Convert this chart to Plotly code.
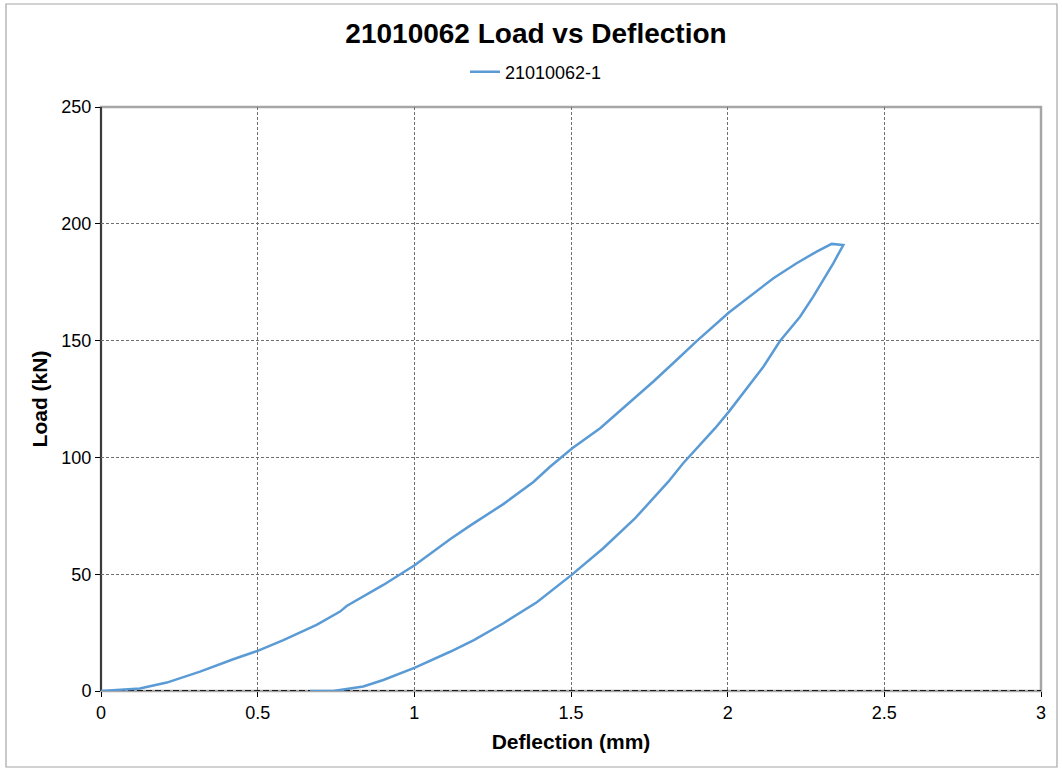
import plotly.graph_objects as go

# Loading branch (deflection mm, load kN)
load_defl = [0, 0.05, 0.124, 0.21, 0.316, 0.422, 0.502, 0.582, 0.635, 0.688, 0.763, 0.784,
             0.901, 1.002, 1.114, 1.178, 1.284, 1.38, 1.433, 1.504, 1.593, 1.699, 1.763,
             1.837, 1.901, 2.004, 2.071, 2.146, 2.22, 2.284, 2.332, 2.369]
load_kn = [0, 0.4, 1.1, 3.6, 8.3, 13.6, 17.3, 21.8, 25.1, 28.3, 34.0, 36.4,
           45.4, 53.9, 65.0, 70.8, 80.0, 89.5, 96.0, 103.9, 112.5, 125.0, 132.5,
           141.7, 149.8, 162.0, 168.8, 176.7, 183.1, 188.1, 191.4, 190.9]

# Unloading branch
unload_defl = [2.337, 2.305, 2.273, 2.231, 2.167, 2.114, 2.061, 2.004, 1.96, 1.912, 1.858,
               1.81, 1.705, 1.603, 1.502, 1.391, 1.284, 1.19, 1.114, 1.002, 0.901, 0.837,
               0.741, 0.667]
unload_kn = [183.1, 176.0, 168.8, 160.2, 149.8, 138.8, 129.5, 119.6, 112.5, 105.3, 97.5,
             89.5, 74.0, 61.1, 49.7, 38.0, 29.0, 21.8, 16.8, 10.0, 4.7, 1.9,
             0, 0]

series_name = "21010062-1"
title_text = "21010062 Load vs Deflection"
x_ticks = [0, 0.5, 1, 1.5, 2, 2.5, 3]
y_ticks = [0, 50, 100, 150, 200, 250]

FONT = "Liberation Sans, Arial, sans-serif"

fig = go.Figure()
fig.add_trace(go.Scatter(
    x=load_defl + unload_defl,
    y=load_kn + unload_kn,
    mode="lines",
    name=series_name,
    line=dict(color="#5B9BD5", width=2.5),
))

L, R, T, B = 101, 21, 107, 81
W, H = 1062, 772
pw, ph = W - L - R, H - T - B

def px_to_paper_x(px):
    return (px - L) / pw

def px_to_paper_y(py):
    return (H - B - py) / ph

shapes = [
    # outer chart border
    dict(type="rect", xref="paper", yref="paper",
         x0=px_to_paper_x(6), x1=px_to_paper_x(1057),
         y0=px_to_paper_y(767), y1=px_to_paper_y(4),
         line=dict(color="#A6A6A6", width=1.2), layer="below"),
    # plot area border
    dict(type="rect", xref="paper", yref="paper", x0=0, x1=1, y0=0, y1=1,
         line=dict(color="#A6A6A6", width=2.5), layer="between"),
    # left axis line
    dict(type="line", xref="paper", yref="paper", x0=0, x1=0, y0=0, y1=1,
         line=dict(color="#000000", width=1.3), layer="between"),
    # dashed zero line
    dict(type="line", xref="paper", yref="y", x0=0, x1=1, y0=0, y1=0,
         line=dict(color="#1a1a1a", width=2, dash="6px,3px"), layer="between"),
]

fig.update_layout(
    width=W, height=H,
    margin=dict(l=L, r=R, t=T, b=B, autoexpand=False),
    paper_bgcolor="white", plot_bgcolor="white",
    font=dict(family=FONT, size=18, color="#000000"),
    title=dict(text="<b>" + title_text + "</b>", x=536 / W,
               xanchor="center", y=1 - 33 / H, yanchor="middle",
               font=dict(size=28, family=FONT, color="#000000")),
    showlegend=True,
    legend=dict(orientation="h", x=px_to_paper_x(536), xanchor="center",
                y=px_to_paper_y(72), yanchor="middle",
                font=dict(size=18), bgcolor="rgba(0,0,0,0)", itemwidth=30),
    shapes=shapes,
    xaxis=dict(range=[0, 3], tickvals=x_ticks, ticktext=[str(v) for v in x_ticks],
               showgrid=True, gridcolor="#6F6F6F", griddash="3px,2px", gridwidth=1,
               zeroline=False, showline=False, ticks="outside", ticklen=5, tickcolor="#000000",
               tickfont=dict(size=18), automargin=False,
               title=dict(text="<b>Deflection (mm)</b>", font=dict(size=21), standoff=12)),
    yaxis=dict(range=[0, 250], tickvals=y_ticks, ticktext=[str(v) for v in y_ticks],
               showgrid=True, gridcolor="#6F6F6F", griddash="3px,2px", gridwidth=1,
               zeroline=False, showline=False, ticks="outside", ticklen=5, tickcolor="#000000",
               tickfont=dict(size=18), automargin=False,
               title=dict(text="<b>Load (kN)</b>", font=dict(size=21), standoff=8)),
)

fig.write_html("out.html",
               config={"displayModeBar": False},
               post_script="document.body.style.margin='0';document.body.style.padding='0';")
